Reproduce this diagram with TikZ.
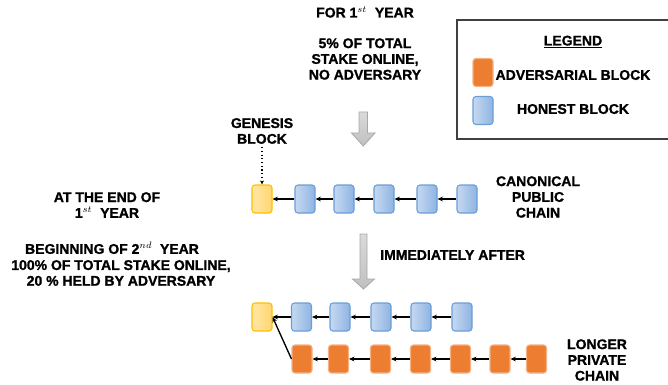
\documentclass[tikz,border=0pt]{standalone}
\usepackage{fontspec}
\setmainfont{Liberation Sans}[BoldFont={Liberation Sans Bold}, BoldFeatures={FakeBold=1.2}]
\usetikzlibrary{arrows.meta}
\definecolor{orangeF}{HTML}{ED7D31}
\definecolor{orangeD}{HTML}{F4B183}
\definecolor{blueL}{HTML}{C5D9F0}
\definecolor{blueR}{HTML}{8FB4E3}
\definecolor{blueD}{HTML}{6A9ED9}
\definecolor{yelL}{HTML}{FFE7A6}
\definecolor{yelR}{HTML}{FFD670}
\definecolor{yelD}{HTML}{FFC000}
\definecolor{grayL}{HTML}{DADADA}
\definecolor{grayR}{HTML}{C0C0C0}
\definecolor{grayD}{HTML}{A8A8A8}
\tikzset{
  txt/.style={font=\fontsize{10.5}{11.8}\selectfont\bfseries, align=center, inner sep=0pt},
  blk/.style={minimum width=15pt, minimum height=21pt, inner sep=0pt, rounded corners=2.2pt, line width=0.8pt},
  honest/.style={blk, draw=blueD, left color=blueL, right color=blueR},
  advers/.style={blk, draw=orangeD, fill=orangeF},
  genesis/.style={blk, draw=yelD, left color=yelL, right color=yelR},
  link/.style={draw=black, line width=1pt, -{Stealth[length=4pt,width=3.5pt]}},
  bigarrow/.style={draw=grayD, line width=0.6pt, top color=grayL, bottom color=grayR}
}
\begin{document}
\begin{tikzpicture}[x=0.75pt, y=-0.75pt]
\useasboundingbox (0,0) rectangle (668,385);
% top texts
\node[txt] (t1) at (365,12) {FOR 1$^{st}$\ \ YEAR};
\node[txt] (t2) at (365,59) {5\% OF TOTAL\\STAKE ONLINE,\\NO ADVERSARY};
% legend
\draw[line width=1pt, draw=black!75] (669,20) -- (457,20) -- (457,139) -- (669,139);
\node[txt] (lg) at (573,42) {\underline{LEGEND}};
\node[advers] (la) at (483,72.5) {};
\node[txt] (lat) at (573,75) {ADVERSARIAL BLOCK};
\node[honest] (lh) at (483,110.5) {};
\node[txt] (lht) at (573,109) {HONEST BLOCK};
% arrow 1
\path[bigarrow] (359,112) -- (367.5,112) -- (367.5,133) -- (375,133) -- (363.25,146) -- (351.5,133) -- (359,133) -- cycle;
% genesis label
\node[txt] (gl) at (262,131) {GENESIS\\BLOCK};
% canonical chain
\node[genesis] (g1) at (262,199) {};
\node[honest] (c1) at (305,199) {};
\node[honest] (c2) at (344,199) {};
\node[honest] (c3) at (384,199) {};
\node[honest] (c4) at (427,199) {};
\node[honest] (c5) at (467,199) {};
\draw[dotted, line width=0.8pt, -{Stealth[length=3pt,width=3pt]}] (gl.south) ++(0,3) -- (g1.north);
\draw[link] (c1.west) -- (g1.east);
\draw[link] (c2.west) -- (c1.east);
\draw[link] (c3.west) -- (c2.east);
\draw[link] (c4.west) -- (c3.east);
\draw[link] (c5.west) -- (c4.east);
\node[txt] (cl) at (538,197) {CANONICAL\\PUBLIC\\CHAIN};
% left texts
\node[txt] (l1) at (107,205) {AT THE END OF\\1$^{st}$\ \ YEAR};
\node[txt] (l2) at (112,248) {BEGINNING OF 2$^{nd}$\ \ YEAR};
\node[txt] (l3) at (121,273) {100\% OF TOTAL STAKE ONLINE,\\20 \% HELD BY ADVERSARY};
% arrow 2
\path[bigarrow] (360,234) -- (367,234) -- (367,279) -- (374.5,279) -- (363.5,289) -- (352.5,279) -- (360,279) -- cycle;
\node[txt, anchor=west] (ia) at (380,255) {IMMEDIATELY AFTER};
% bottom chains
\node[genesis] (g2) at (262,317) {};
\node[honest] (h1) at (301.5,317) {};
\node[honest] (h2) at (340,317) {};
\node[honest] (h3) at (381,317) {};
\node[honest] (h4) at (421,317) {};
\node[honest] (h5) at (462,317) {};
\draw[link] (h1.west) -- (g2.east);
\draw[link] (h2.west) -- (h1.east);
\draw[link] (h3.west) -- (h2.east);
\draw[link] (h4.west) -- (h3.east);
\draw[link] (h5.west) -- (h4.east);
\node[advers] (o1) at (302,359) {};
\node[advers] (o2) at (338.5,359) {};
\node[advers] (o3) at (380.5,359) {};
\node[advers] (o4) at (420.5,359) {};
\node[advers] (o5) at (460.5,359) {};
\node[advers] (o6) at (500,359) {};
\node[advers] (o7) at (536.5,359) {};
\draw[link] (o1.west) -- (g2.east);
\draw[link] (o2.west) -- (o1.east);
\draw[link] (o3.west) -- (o2.east);
\draw[link] (o4.west) -- (o3.east);
\draw[link] (o5.west) -- (o4.east);
\draw[link] (o6.west) -- (o5.east);
\draw[link] (o7.west) -- (o6.east);
\node[txt] (pl) at (597,360) {LONGER\\PRIVATE\\CHAIN};
\end{tikzpicture}
\end{document}
